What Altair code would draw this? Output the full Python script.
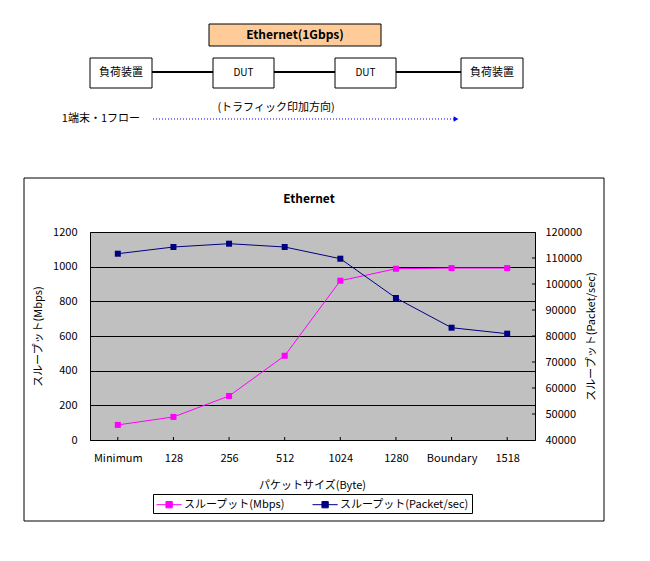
import altair as alt
import pandas as pd

# ---------------- data ----------------
sizes = ["Minimum", "128", "256", "512", "1024", "1280", "Boundary", "1518"]
mbps = [87, 133, 254, 486, 919, 988, 992, 992]
pps = [111650, 114230, 115500, 114230, 109730, 94620, 83190, 80890]
series_names = ["スループット(Mbps)", "スループット(Packet/sec)"]
series_colors = ["#FF00FF", "#000080"]
left_ticks = [0, 200, 400, 600, 800, 1000, 1200]
right_ticks = [40000, 50000, 60000, 70000, 80000, 90000, 100000, 110000, 120000]
inner_right_ticks = [50000, 60000, 70000, 80000, 90000, 100000, 110000]

chart_title = "Ethernet"
x_title = "パケットサイズ(Byte)"
net_label = "Ethernet(1Gbps)"
dev_label = "負荷装置"
dut_label = "DUT"
dir_label = "(トラフィック印加方向)"
flow_label = "1端末・1フロー"

df_m = pd.DataFrame({"size": sizes, "value": mbps, "series": series_names[0]})
df_p = pd.DataFrame({"size": sizes, "value": pps, "series": series_names[1]})
df_rt = pd.DataFrame({"value": inner_right_ticks})

FONT = "Noto Sans CJK JP"
W, H = 445, 208


def one():
    return alt.Chart(alt.Data(values=[{"d": 0}]))


def box(x, x2, y, y2, fill="white", op=1):
    return one().mark_rect(fill=fill, fillOpacity=op, stroke="black", strokeWidth=1).encode(
        x=alt.value(x), x2=alt.value(x2), y=alt.value(y), y2=alt.value(y2))


def hline(x, x2, y, color="black", width=2, dash=None):
    kw = dict(color=color, strokeWidth=width)
    if dash:
        kw["strokeDash"] = dash
    return one().mark_rule(**kw).encode(x=alt.value(x), x2=alt.value(x2), y=alt.value(y))


def label(x, y, text, size=11, bold=False, align="center"):
    return one().mark_text(text=text, font=FONT, fontSize=size,
                           fontWeight="bold" if bold else "normal",
                           align=align, baseline="middle", color="black").encode(
        x=alt.value(x), y=alt.value(y))


decor = [
    # outer chart frame
    box(-66, 514, -54, 289, fill="white", op=0),
    # top diagram
    box(119, 291, -208, -186, fill="#FFCC99"),
    label(205, -197, net_label, size=12, bold=True),
    hline(62, 123, -160),
    hline(184, 245, -160),
    hline(306, 371, -160),
    box(0, 62, -174, -144),
    box(123, 184, -174, -144),
    box(245, 306, -174, -144),
    box(371, 433, -174, -144),
    label(31, -159, dev_label),
    label(153.5, -159, dut_label, size=10),
    label(275.5, -159, dut_label, size=10),
    label(402, -159, dev_label),
    label(186, -124, dir_label),
    label(50, -113, flow_label, align="right"),
    hline(63, 364, -113, color="#0000FF", width=1, dash=[1, 2]),
    one().mark_point(shape="triangle-right", filled=True, size=30, color="#0000FF", opacity=1).encode(
        x=alt.value(366), y=alt.value(-113)),
    # chart title
    label(219, -33, chart_title, size=12, bold=True),
]

x_scale = alt.Scale(type="point", padding=0.5)
x_axis = alt.Axis(title=x_title, labelAngle=0, ticks=False, domain=False, grid=False,
                  labelPadding=12, titleX=222, titleY=45, titleBaseline="middle")
x_enc = alt.X("size:N", sort=sizes, scale=x_scale, axis=x_axis)

left_scale = alt.Scale(domain=[0, 1200], nice=False, zero=False)
left_axis = alt.Axis(values=left_ticks, format="d", grid=True, gridColor="black",
                     gridOpacity=1, gridWidth=1, ticks=False, domain=False,
                     labelPadding=13,
                     title=series_names[0], titleX=-52, titleY=104, titleAngle=270,
                     titleBaseline="middle", titleAlign="center")

pps_scale = alt.Scale(domain=[40000, 120000], nice=False, zero=False)
right_axis = alt.Axis(orient="right", values=right_ticks, format="d", grid=False,
                      ticks=False, domain=False, labelPadding=10,
                      title=series_names[1], titleX=56, titleY=104, titleAngle=270,
                      titleBaseline="middle", titleAlign="center")

color_scale = alt.Scale(domain=series_names, range=series_colors)

line_m = alt.Chart(df_m).mark_line(
    strokeWidth=1,
    point=alt.OverlayMarkDef(shape="square", size=36, filled=True, opacity=1)).encode(
    x=x_enc,
    y=alt.Y("value:Q", scale=left_scale, axis=left_axis),
    color=alt.Color("series:N", scale=color_scale,
                    legend=alt.Legend(title=None, orient="none", legendX=63, legendY=262,
                                      direction="horizontal", strokeColor="black", padding=3,
                                      fillColor="white",
                                      symbolType="M-1,0H2.6M0.35,-0.45H1.25V0.45H0.35Z",
                                      symbolSize=196, symbolStrokeWidth=1,
                                      labelFont=FONT, labelFontSize=11, labelOffset=13,
                                      columnPadding=24)),
)

xticks = alt.Chart(df_m).mark_rule(color="black", strokeWidth=1).encode(
    x=x_enc, y=alt.value(H - 3), y2=alt.value(H))

line_p = alt.Chart(df_p).mark_line(
    strokeWidth=1,
    point=alt.OverlayMarkDef(shape="square", size=36, filled=True, opacity=1)).encode(
    x=x_enc,
    y=alt.Y("value:Q", scale=pps_scale, axis=right_axis),
    color=alt.Color("series:N", scale=color_scale),
)

rticks = alt.Chart(df_rt).mark_rule(color="black", strokeWidth=1).encode(
    y=alt.Y("value:Q", scale=pps_scale, axis=right_axis), x=alt.value(W - 3), x2=alt.value(W))

left_layer = alt.layer(line_m, xticks)
right_layer = alt.layer(line_p, rticks)

chart = alt.layer(*decor, left_layer, right_layer).resolve_scale(
    y="independent"
).properties(
    width=W, height=H,
    padding={"left": 82, "top": 224, "right": 100, "bottom": 100},
    autosize=alt.AutoSizeParams(type="none"),
).configure_view(
    fill="#C0C0C0", stroke="black", strokeWidth=1
).configure_axis(
    labelFont=FONT, titleFont=FONT, labelFontSize=11, titleFontSize=11,
    labelColor="black", titleColor="black", titleFontWeight="normal"
)

chart.save("out.html", embed_options={"renderer": "svg", "actions": False})
